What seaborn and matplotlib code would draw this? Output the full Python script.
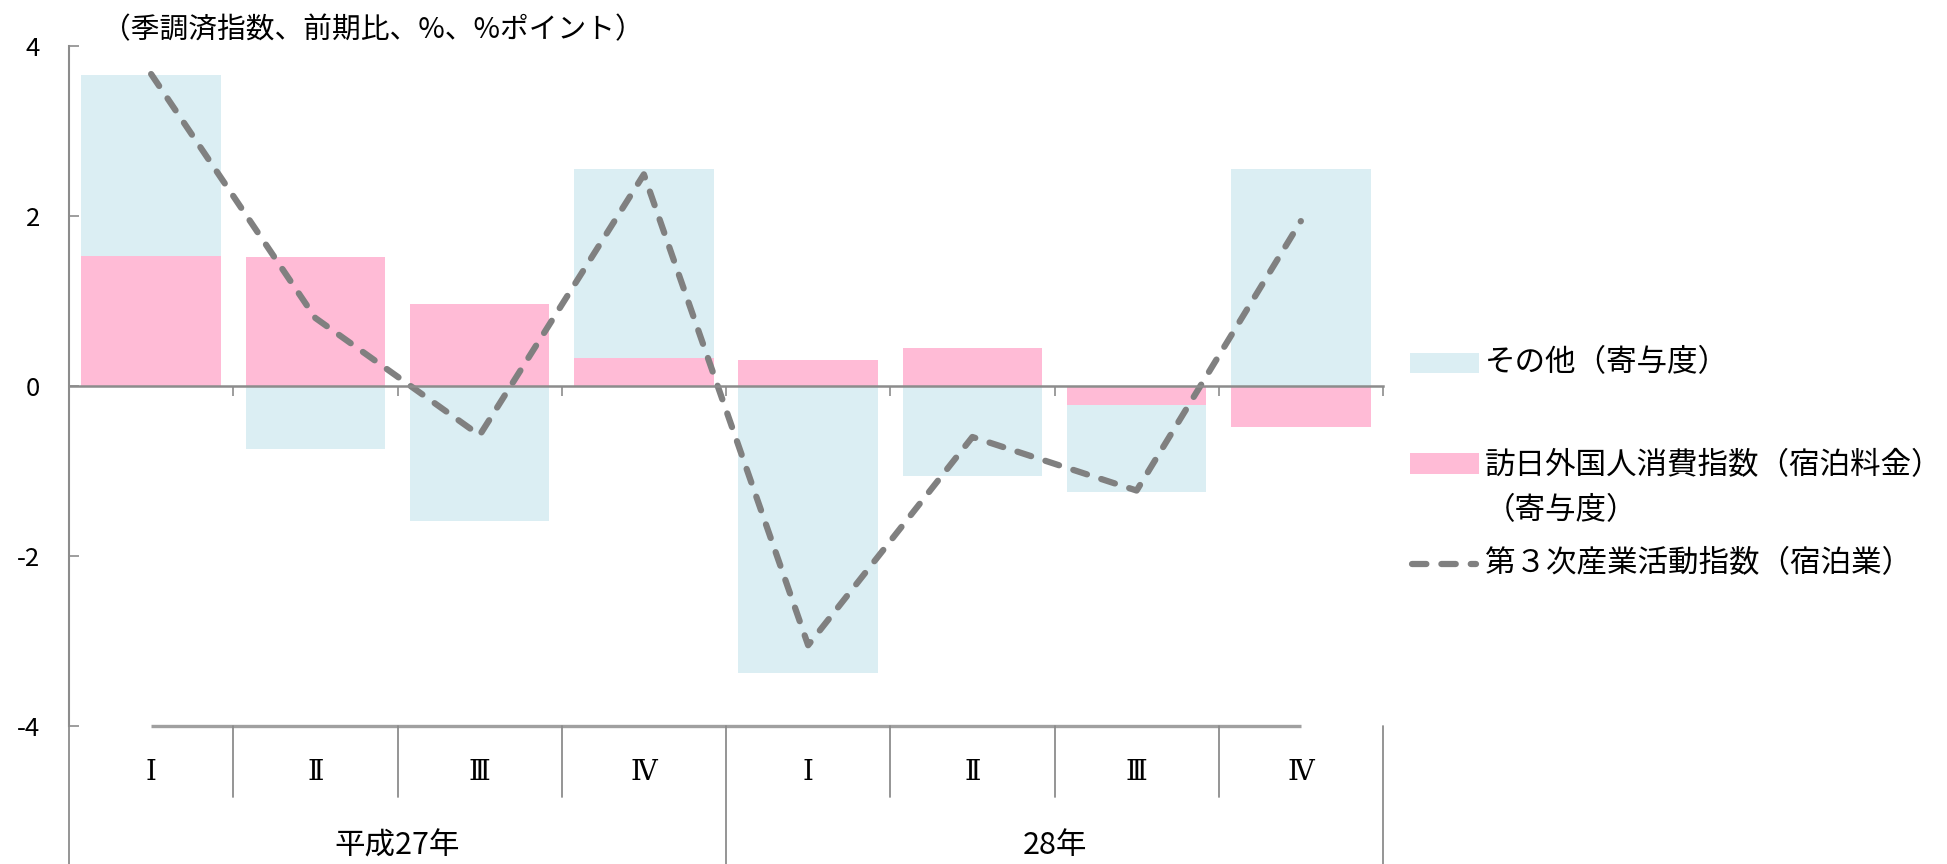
import numpy as np
import pandas as pd
import matplotlib
matplotlib.use("Agg")
import matplotlib.pyplot as plt
import seaborn as sns
from matplotlib.patches import Rectangle
from matplotlib.lines import Line2D
from matplotlib.transforms import blended_transform_factory

# ---- data -------------------------------------------------------------
years = ["平成27年", "28年"]
quarters = ["Ⅰ", "Ⅱ", "Ⅲ", "Ⅳ"]
inbound = [1.53, 1.52, 0.97, 0.33, 0.31, 0.45, -0.22, -0.48]      # 訪日外国人消費指数（宿泊料金）寄与度
other = [2.13, -0.74, -1.59, 2.22, -3.38, -1.06, -1.03, 2.55]     # その他 寄与度
lodging = [3.67, 0.80, -0.58, 2.49, -3.05, -0.60, -1.23, 1.94]    # 第３次産業活動指数（宿泊業）

title = "（季調済指数、前期比、%、%ポイント）"
label_other = "その他（寄与度）"
label_inbound = "訪日外国人消費指数（宿泊料金）\n（寄与度）"
label_line = "第３次産業活動指数（宿泊業）"
yticks = [-4, -2, 0, 2, 4]

# ---- styling ----------------------------------------------------------
sns.set_style("white")
plt.rcParams["font.family"] = ["Noto Sans CJK JP", "DejaVu Sans"]
plt.rcParams["axes.unicode_minus"] = False

PINK = "#FFBBD6"
BLUE = "#DBEEF3"
LINE = "#808080"
AXIS = "#8C8C8C"
TEXT = "#000000"
DASH = (0, (2.3, 2.4))

W, H = 1947, 864
fig = plt.figure(figsize=(W / 100, H / 100), dpi=100)
ax = fig.add_axes([69 / W, 1 - 726 / H, 1314 / W, 680 / H])

periods = [f"{y}{q}" for y in years for q in quarters]
df = pd.DataFrame({"period": periods, "inbound": inbound, "other": other,
                   "lodging": lodging})
# stacked extent of the "other" series: sits on top of the inbound bar when
# both share a sign, otherwise it starts from zero
same_sign = np.sign(df["inbound"]) == np.sign(df["other"])
df["other_top"] = np.where(same_sign, df["inbound"] + df["other"], df["other"])

sns.barplot(data=df, x="period", y="other_top", order=periods, color=BLUE,
            saturation=1, width=0.85, errorbar=None, edgecolor="none",
            linewidth=0, ax=ax)
sns.barplot(data=df, x="period", y="inbound", order=periods, color=PINK,
            saturation=1, width=0.85, errorbar=None, edgecolor="none",
            linewidth=0, ax=ax)

pos = np.arange(len(periods))
sns.lineplot(x=pos, y=df["lodging"].to_numpy(), ax=ax, color=LINE,
             linewidth=4.5, sort=False)
ln = ax.lines[-1]
ln.set_linestyle(DASH)
ln.set_dash_capstyle("round")
ln.set_zorder(5)

ax.set_xlim(-0.5, len(periods) - 0.5)
ax.set_ylim(-4, 4)
ax.set_xlabel("")
ax.set_ylabel("")

# axes: y-axis on the left, category axis through zero
for s in ("top", "right"):
    ax.spines[s].set_visible(False)
ax.spines["left"].set_color(AXIS)
ax.spines["left"].set_linewidth(1.5)
ax.spines["bottom"].set_position(("data", 0))
ax.spines["bottom"].set_color(AXIS)
ax.spines["bottom"].set_linewidth(1.8)
ax.spines["bottom"].set_zorder(6)

ax.set_yticks(yticks)
ax.set_yticklabels([str(v) for v in yticks])
ax.tick_params(axis="y", direction="in", length=7, width=1.2, color=AXIS,
               labelsize=18.5, pad=21, labelcolor=TEXT, left=True)
ax.set_xticks(np.arange(-0.5, len(periods), 1.0))
ax.set_xticklabels([])
ax.tick_params(axis="x", direction="out", length=7, width=1.2, color=AXIS,
               bottom=True)
ax.grid(False)

# multi-level category labels under the plot
tr = blended_transform_factory(ax.transData, ax.transAxes)
y_fig_bottom = -0.21
y_q_sep = -(797 - 726) / 680
ax.plot([0, len(periods) - 1], [0, 0], transform=tr, color="#A0A0A0",
        lw=2.4, clip_on=False, solid_capstyle="butt")
for b in np.arange(-0.5, len(periods), 1.0):
    bottom = y_fig_bottom if (b + 0.5) % 4 == 0 else y_q_sep
    ax.plot([b, b], [0, bottom], transform=tr, color=AXIS, lw=1.3,
            clip_on=False)
for i, p in enumerate(periods):
    ax.text(i, -(772 - 726) / 680, quarters[i % 4], transform=tr,
            ha="center", va="center", fontsize=20, color=TEXT,
            family=["DejaVu Serif", "Noto Sans CJK JP"])
for j, y in enumerate(years):
    ax.text(j * 4 + 1.5, -(846 - 726) / 680, y, transform=tr, ha="center",
            va="center", fontsize=22, color=TEXT)

# unit note
fig.text(102 / W, 1 - 30 / H, title, ha="left", va="center", fontsize=20.7,
         color=TEXT)

# legend
def fx(px):
    return px / W


def fy(py):
    return 1 - py / H


fig.add_artist(Rectangle((fx(1410), fy(373)), fx(1479) - fx(1410),
                         fy(353) - fy(373), transform=fig.transFigure,
                         facecolor=BLUE, edgecolor="none"))
fig.add_artist(Rectangle((fx(1410), fy(474)), fx(1479) - fx(1410),
                         fy(453) - fy(474), transform=fig.transFigure,
                         facecolor=PINK, edgecolor="none"))
fig.add_artist(Line2D([fx(1412), fx(1476)], [fy(564), fy(564)],
                      transform=fig.transFigure, color=LINE, lw=4.5,
                      linestyle=DASH, dash_capstyle="round"))
fig.text(fx(1485), fy(363), label_other, ha="left", va="center",
         fontsize=22, color=TEXT)
fig.text(fx(1485), fy(488), label_inbound, ha="left", va="center",
         fontsize=22, color=TEXT, linespacing=1.6)
fig.text(fx(1485), fy(564), label_line, ha="left", va="center",
         fontsize=22, color=TEXT)

fig.savefig("out.png", dpi=100, facecolor="white")
